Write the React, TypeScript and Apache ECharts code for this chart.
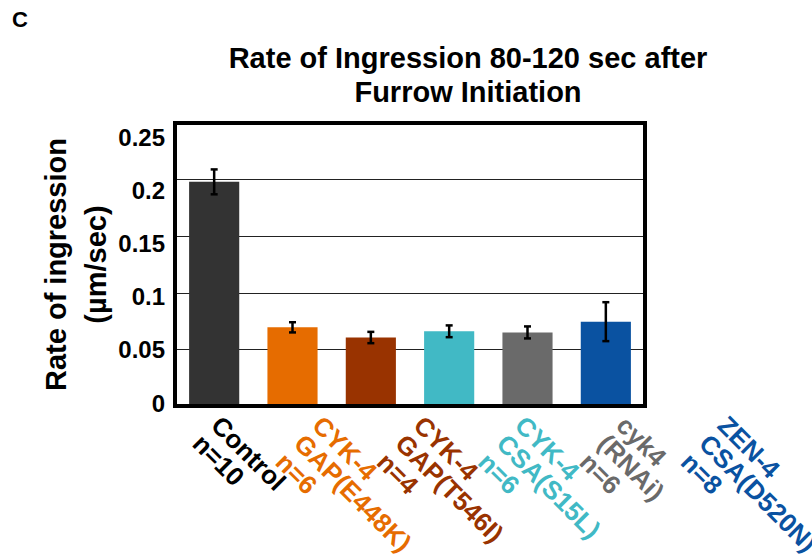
import React, { useEffect, useRef } from "react";
import * as echarts from "echarts";

const categories = ["Control", "CYK-4 GAP(E448K)", "CYK-4 GAP(T546I)", "CYK-4 CSA(S15L)", "cyk4 (RNAi)", "ZEN-4 CSA(D520N)"];
const xLabels = [
  "Control\nn=10\n ",
  "CYK-4\nGAP(E448K)\nn=6",
  "CYK-4\nGAP(T546I)\nn=4",
  "CYK-4\nCSA(S15L)\nn=6",
  "cyk4\n(RNAi)\nn=6",
  "ZEN-4\nCSA(D520N)\nn=8",
];
const means = [0.198, 0.0695, 0.0605, 0.066, 0.065, 0.0745];
const errors = [0.011, 0.0045, 0.005, 0.0052, 0.0053, 0.0172];
const barColors = ["#333333", "#E66C00", "#993300", "#41B9C5", "#6A6A6A", "#0A52A1"];
const labelColors = ["#000000", "#E66C00", "#993300", "#41B9C5", "#6A6A6A", "#0A52A1"];
const yTickLabels = ["0", "0.05", "0.1", "0.15", "0.2", "0.25"];
const yMin = 0;
const yMax = 0.25;
const yInterval = 0.05;

const FONT = '"Liberation Sans", Arial, Helvetica, sans-serif';

export default function App() {
  const ref = useRef<HTMLDivElement>(null);
  useEffect(() => {
    document.body.style.margin = "0";
    if (!ref.current) return;
    const chart = echarts.init(ref.current, undefined, { renderer: "svg" });
    const errData = means.map((m, i) => [i, m - errors[i], m + errors[i]]);
    chart.setOption({
      animation: false,
      backgroundColor: "#ffffff",
      textStyle: { fontFamily: FONT },
      title: [
        {
          text: "Rate of Ingression 80-120 sec after\nFurrow Initiation",
          left: 468,
          top: 41,
          textAlign: "center",
          padding: 0,
          textStyle: { fontFamily: FONT, fontWeight: "bold", fontSize: 29, lineHeight: 34, color: "#000" },
        },
      ],
      graphic: [
        {
          type: "text",
          left: 12,
          top: 8,
          style: { text: "C", fontFamily: FONT, fontWeight: "bold", fontSize: 22, fill: "#000" },
        },
      ],
      grid: [
        { left: 175, top: 123, width: 470, height: 283, show: true, borderColor: "#000", borderWidth: 4, backgroundColor: "transparent", z: 10, outerBoundsMode: "none", containLabel: false },
        { left: 146.8, top: 123, width: 607.8, height: 283, show: false, outerBoundsMode: "none", containLabel: false },
        { left: 175, top: 137, width: 470, height: 266, show: false, outerBoundsMode: "none", containLabel: false },
      ],
      xAxis: [
        {
          gridIndex: 0,
          type: "category",
          data: categories,
          axisLine: { show: false },
          axisTick: { show: false },
          axisLabel: { show: false },
        },
        {
          gridIndex: 1,
          type: "category",
          data: xLabels.map((l, i) => ({ value: l, textStyle: { color: labelColors[i] } })),
          axisLine: { show: false },
          axisTick: { show: false },
          axisLabel: {
            show: true,
            interval: 0,
            rotate: -45,
            align: "left",
            verticalAlign: "middle",
            margin: 33,
            hideOverlap: false,
            fontFamily: FONT,
            fontWeight: "bold",
            fontSize: 26,
            lineHeight: 26,
          },
        },
        { gridIndex: 2, type: "category", data: categories, show: false },
      ],
      yAxis: [
        {
          gridIndex: 0,
          type: "value",
          min: yMin,
          max: yMax,
          interval: yInterval,
          axisLine: { show: false },
          axisTick: { show: false },
          axisLabel: { show: false },
          splitLine: { show: true, lineStyle: { color: "#222", width: 1 } },
          name: "Rate of ingression\n(µm/sec)",
          nameLocation: "middle",
          nameGap: 99,
          nameTextStyle: { fontFamily: FONT, fontWeight: "bold", fontSize: 29, lineHeight: 40, color: "#000", verticalAlign: "middle", align: "center" },
        },
        { gridIndex: 1, type: "value", min: 0, max: 1, show: false },
        {
          gridIndex: 2,
          type: "value",
          min: yMin,
          max: yMax,
          interval: yInterval,
          axisLine: { show: false },
          axisTick: { show: false },
          splitLine: { show: false },
          axisLabel: {
            show: true,
            margin: 10,
            fontFamily: FONT,
            fontWeight: "bold",
            fontSize: 24,
            color: "#000",
            formatter: (v: number) => yTickLabels[Math.round((v - yMin) / yInterval)],
          },
        },
      ],
      series: [
        {
          type: "bar",
          xAxisIndex: 0,
          yAxisIndex: 0,
          barWidth: "64%",
          data: means.map((m, i) => ({ value: m, itemStyle: { color: barColors[i] } })),
        },
        {
          type: "custom",
          xAxisIndex: 0,
          yAxisIndex: 0,
          z: 5,
          data: errData,
          renderItem: (params: any, api: any) => {
            const x = api.value(0);
            const lo = api.coord([x, api.value(1)]);
            const hi = api.coord([x, api.value(2)]);
            const cap = 3.5;
            const style = { stroke: "#000", lineWidth: 2.5 };
            return {
              type: "group",
              children: [
                { type: "line", shape: { x1: lo[0], y1: lo[1], x2: hi[0], y2: hi[1] }, style },
                { type: "line", shape: { x1: lo[0] - cap, y1: lo[1], x2: lo[0] + cap, y2: lo[1] }, style },
                { type: "line", shape: { x1: hi[0] - cap, y1: hi[1], x2: hi[0] + cap, y2: hi[1] }, style },
              ],
            };
          },
        },
      ],
    });
    return () => chart.dispose();
  }, []);
  return <div ref={ref} style={{ width: 812, height: 557 }} />;
}
